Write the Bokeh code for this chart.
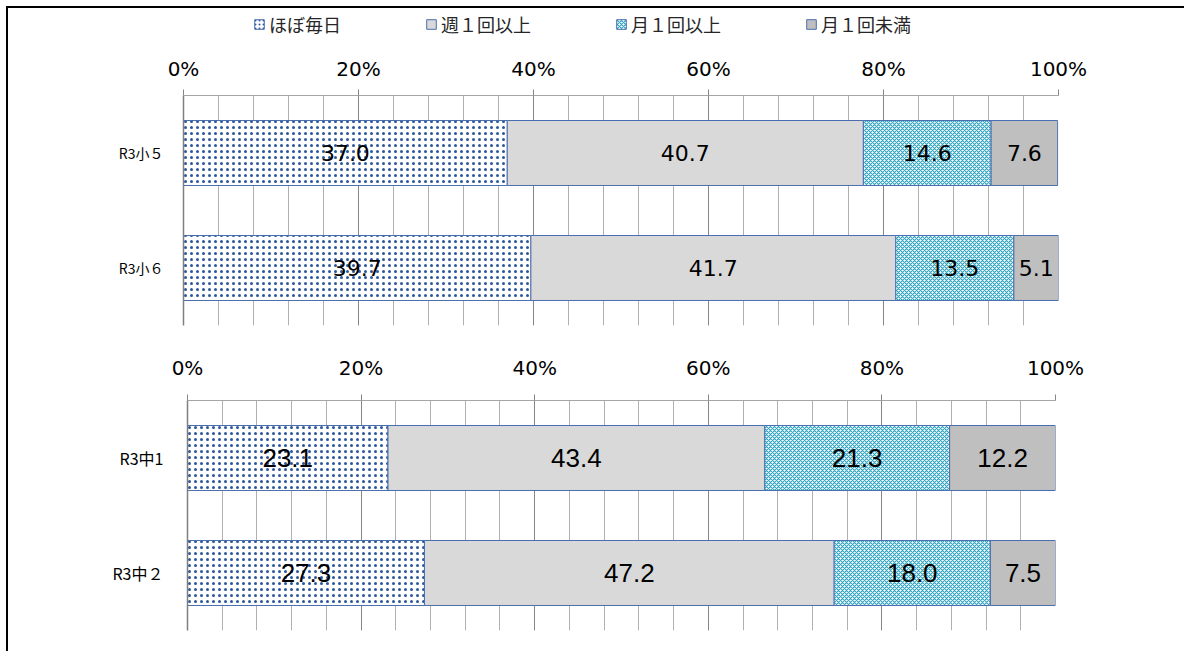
from bokeh.plotting import figure
from bokeh.models import (ColumnDataSource, FactorRange, Range1d, FixedTicker,
                          PrintfTickFormatter, Legend, LegendItem, Spacer)
from bokeh.layouts import column, row
from bokeh.embed import file_html
from bokeh.resources import INLINE
from bokeh.core.properties import value

# ---------------- data ----------------
series = ["ほぼ毎日", "週１回以上", "月１回以上", "月１回未満"]

top_cats = ["R3小５", "R3小６"]
top_daily = [37.0, 39.7]
top_weekly = [40.7, 41.7]
top_monthly = [14.6, 13.5]
top_less = [7.6, 5.1]

bot_cats = ["R3中1", "R3中２"]
bot_daily = [23.1, 27.3]
bot_weekly = [43.4, 47.2]
bot_monthly = [21.3, 18.0]
bot_less = [12.2, 7.5]

major_ticks = [0, 20, 40, 60, 80, 100]
minor_ticks = list(range(0, 101, 4))

# ---------------- styles ----------------
KEYS = ["daily", "weekly", "monthly", "less"]
FILLS = ["#FFFFFF", "#D9D9D9", "#FFFFFF", "#BFBFBF"]
HATCHES = [".", None, "x", None]
HATCH_COLORS = ["#2B579A", "#D9D9D9", "#30A4BF", "#BFBFBF"]
HATCH_SCALES = [6, 5, 4, 5]
HATCH_WEIGHTS = [0.8, 1, 1.2, 1]
OUTLINE = "#4A6FB0"
W = 1176


def build(cats, vals, width, height, top, bottom, left, right, standoff,
          label_font, label_size, cat_size, cat_standoff):
    data = {"cat": cats}
    for k, v in zip(KEYS, vals):
        data[k] = v
    src = ColumnDataSource(data)

    p = figure(width=width, height=height,
               y_range=FactorRange(*list(reversed(cats))),
               x_range=Range1d(0, 100), x_axis_location="above",
               output_backend="svg", toolbar_location=None,
               min_border_left=left, min_border_right=right,
               min_border_top=top, min_border_bottom=bottom)
    p.outline_line_color = None
    p.background_fill_color = "white"
    p.border_fill_color = "white"

    p.hbar_stack(KEYS, y="cat", height=0.565, source=src,
                 fill_color=FILLS, hatch_pattern=HATCHES,
                 hatch_color=HATCH_COLORS, hatch_scale=HATCH_SCALES,
                 hatch_weight=HATCH_WEIGHTS,
                 line_color=OUTLINE, line_width=1)

    # data labels at segment centres
    xs, ys, txt = [], [], []
    for i, c in enumerate(cats):
        cum = 0.0
        for v in vals:
            xs.append(cum + v[i] / 2.0)
            ys.append(c)
            txt.append("%.1f" % v[i])
            cum += v[i]
    lab = ColumnDataSource(dict(x=xs, y=ys, t=txt))
    p.text(x="x", y="y", text="t", source=lab, text_font=value(label_font),
           text_font_size=label_size, text_align="center",
           text_baseline="middle", text_color="black")

    ticker = FixedTicker(ticks=major_ticks, minor_ticks=minor_ticks)
    ax = p.xaxis[0]
    ax.ticker = ticker
    ax.formatter = PrintfTickFormatter(format="%d%%")
    ax.axis_line_color = "#A6A6A6"
    ax.major_tick_line_color = "#868686"
    ax.major_tick_out = 6
    ax.major_tick_in = 0
    ax.minor_tick_out = 0
    ax.minor_tick_in = 0
    ax.major_label_standoff = standoff
    ax.major_label_text_font = "DejaVu Sans"
    ax.major_label_text_font_size = "20px"
    ax.major_label_text_color = "black"

    p.xgrid.ticker = ticker
    p.xgrid.grid_line_color = "#868686"
    p.xgrid.minor_grid_line_color = "#B0B0B0"
    p.ygrid.visible = False

    ya = p.yaxis[0]
    ya.axis_line_color = "#7F7F7F"
    ya.axis_line_width = 1.5
    ya.major_tick_out = 0
    ya.major_tick_in = 0
    ya.minor_tick_out = 0
    ya.major_label_standoff = cat_standoff
    ya.major_label_text_font = "Noto Sans CJK JP"
    ya.major_label_text_font_size = cat_size
    ya.major_label_text_color = "black"
    return p


# ---------------- legend strip ----------------
pl = figure(width=W, height=38, x_range=Range1d(0, 1), y_range=Range1d(0, 1),
            x_axis_location=None, y_axis_location=None,
            output_backend="svg", toolbar_location=None,
            min_border_left=175, min_border_right=W - 175 - 875,
            min_border_top=0, min_border_bottom=0)
pl.outline_line_color = None
pl.grid.visible = False
items = []
for s, fc, hp, hc, hs, hw in zip(series, FILLS, HATCHES, HATCH_COLORS,
                                 HATCH_SCALES, HATCH_WEIGHTS):
    # off-screen proxy glyph, used only for the legend swatch
    r = pl.hbar(y=[-5], left=[0], right=[1], height=0.5, fill_color=fc,
                hatch_pattern=hp, hatch_color=hc, hatch_scale=min(hs, 4),
                hatch_weight=hw, line_color=OUTLINE, line_width=1)
    items.append(LegendItem(label=s, renderers=[r]))
lg = Legend(items=items, orientation="horizontal", location=(70, 9),
            padding=0, margin=0, spacing=84, glyph_width=12, glyph_height=12,
            label_standoff=4, label_height=20,
            label_text_font="Noto Sans CJK JP", label_text_font_size="18px",
            label_text_color="#262626",
            border_line_alpha=0, background_fill_alpha=0)
pl.add_layout(lg)

p1 = build(top_cats, [top_daily, top_weekly, top_monthly, top_less],
           width=W, height=294, top=49, bottom=15, left=175,
           right=W - 175 - 875, standoff=9, label_font="DejaVu Sans",
           label_size="22px", cat_size="14px", cat_standoff=20)
p2 = build(bot_cats, [bot_daily, bot_weekly, bot_monthly, bot_less],
           width=W - 4, height=311, top=60, bottom=21, left=175,
           right=W - 4 - 175 - 868, standoff=15, label_font="Liberation Sans",
           label_size="26px", cat_size="16px", cat_standoff=24)

layout = column(pl, p1, row(Spacer(width=4, height=311), p2, spacing=0),
                spacing=0,
                styles={"border-top": "2px solid black",
                        "border-left": "2px solid black",
                        "margin-top": "6px", "margin-left": "6px"})

open("out.html", "w").write(file_html(layout, INLINE))
